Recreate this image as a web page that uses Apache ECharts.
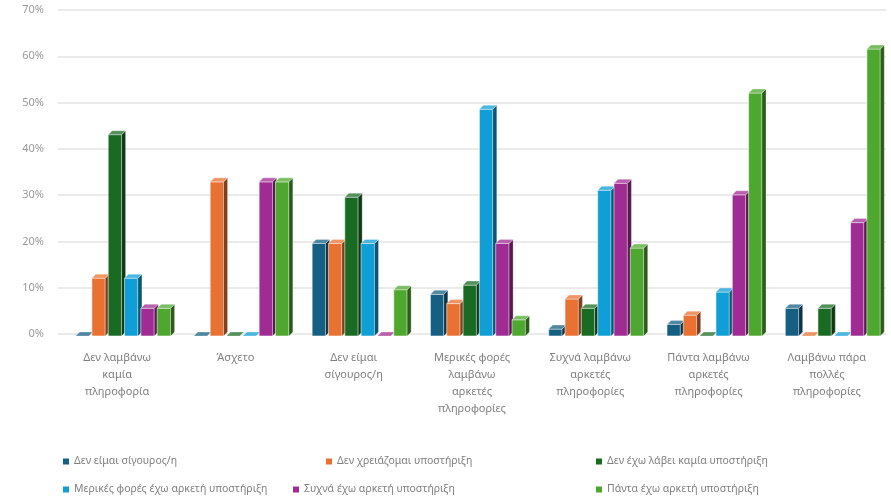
<!DOCTYPE html>
<html>
<head>
<meta charset="utf-8">
<script src="https://cdn.jsdelivr.net/npm/echarts@6/dist/echarts.min.js"></script>
<style>html,body{margin:0;padding:0;background:#fff}#c{width:891px;height:497px}</style>
</head>
<body>
<div id="c"></div>
<script>
const categories = [
  "Δεν λαμβάνω\nκαμία\nπληροφορία",
  "Άσχετο",
  "Δεν είμαι\nσίγουρος/η",
  "Μερικές φορές\nλαμβάνω\nαρκετές\nπληροφορίες",
  "Συχνά λαμβάνω\nαρκετές\nπληροφορίες",
  "Πάντα λαμβάνω\nαρκετές\nπληροφορίες",
  "Λαμβάνω πάρα\nπολλές\nπληροφορίες"
];
const seriesNames = [
  "Δεν είμαι σίγουρος/η",
  "Δεν χρειάζομαι υποστήριξη",
  "Δεν έχω λάβει καμία υποστήριξη",
  "Μερικές φορές έχω αρκετή υποστήριξη",
  "Συχνά έχω αρκετή υποστήριξη",
  "Πάντα έχω αρκετή υποστήριξη"
];
const notSure      = [0, 0, 20, 9, 1.5, 2.5, 6];
const noNeed       = [12.5, 33.3, 20, 7, 8, 4.5, 0];
const noneReceived = [43.5, 0, 30, 11, 6, 0, 6];
const sometimes    = [12.5, 0, 20, 49, 31.5, 9.5, 0];
const often        = [6, 33.3, 0, 20, 33, 30.5, 24.5];
const always       = [6, 33.3, 10, 3.5, 19, 52.5, 62];
const yTicks = [0, 10, 20, 30, 40, 50, 60, 70];

const seriesValues = [notSure, noNeed, noneReceived, sometimes, often, always];
const colors = ["#156082", "#E97132", "#196B24", "#0F9ED5", "#A02B93", "#4EA72E"];

function shade(hex, f) {
  const n = parseInt(hex.slice(1), 16);
  let r = (n >> 16) & 255, g = (n >> 8) & 255, b = n & 255;
  if (f < 0) { r = Math.round(r * (1 + f)); g = Math.round(g * (1 + f)); b = Math.round(b * (1 + f)); }
  else { r = Math.round(r + (255 - r) * f); g = Math.round(g + (255 - g) * f); b = Math.round(b + (255 - b) * f); }
  return "rgb(" + r + "," + g + "," + b + ")";
}

function makeRender(k, color) {
  return function (params, api) {
    const idx = api.value(0), val = api.value(1);
    const p = api.coord([idx, val]);
    const p0 = api.coord([idx, 0]);
    const bw = api.size([1, 0])[0];
    const pitch = bw * 0.138;
    const w = pitch * 0.82;
    const d = 4;
    const cx = p[0] + bw * 0.05 + (k - 2.5) * pitch;
    const x0 = cx - w / 2;
    const yt = p[1] + 2, yb = p0[1] + 2;
    return {
      type: "group",
      children: [
        { type: "rect", shape: { x: x0, y: yt, width: w, height: Math.max(0, yb - yt) },
          style: { fill: color, stroke: "rgba(255,255,255,0.7)", lineWidth: 0.8 } },
        { type: "polygon", shape: { points: [[x0 + w, yt], [x0 + w + d, yt - d], [x0 + w + d, yb - d], [x0 + w, yb]] },
          style: { fill: shade(color, -0.45), stroke: "rgba(255,255,255,0.5)", lineWidth: 0.5 } },
        { type: "polygon", shape: { points: [[x0, yt], [x0 + w, yt], [x0 + w + d, yt - d], [x0 + d, yt - d]] },
          style: { fill: shade(color, 0.25), stroke: "rgba(255,255,255,0.6)", lineWidth: 0.5 } }
      ]
    };
  };
}

const legendPos = [
  { left: 63, top: 456 }, { left: 326, top: 456 }, { left: 596, top: 456 },
  { left: 63, top: 484 }, { left: 293, top: 484 }, { left: 596, top: 484 }
];

const chart = echarts.init(document.getElementById("c"));
chart.setOption({
  animation: false,
  textStyle: { fontFamily: "Noto Sans" },
  grid: { left: 58, right: 5, top: 10, bottom: 163 },
  legend: seriesNames.map((n, i) => Object.assign({
    data: [n], icon: "rect", itemWidth: 6, itemHeight: 6, itemGap: 4,
    textStyle: { color: "#7f7f7f", fontSize: 10.5, fontFamily: "Noto Sans" },
    padding: 0
  }, legendPos[i])),
  xAxis: {
    type: "category", data: categories,
    axisLine: { show: false }, axisTick: { show: false },
    axisLabel: { color: "#7f7f7f", fontSize: 11, lineHeight: 17, margin: 15, interval: 0 }
  },
  yAxis: {
    type: "value", min: 0, max: 70, interval: 10,
    axisLine: { show: false }, axisTick: { show: false },
    splitLine: { lineStyle: { color: "#e3e3e3", width: 1.5 } },
    axisLabel: { color: "#9a9a9a", fontSize: 11, margin: 14, formatter: v => yTicks.includes(v) ? v + "%" : "" }
  },
  series: seriesValues.map((vals, k) => ({
    type: "custom", name: seriesNames[k],
    itemStyle: { color: colors[k] },
    renderItem: makeRender(k, colors[k]),
    encode: { x: 0, y: 1 },
    data: vals.map((v, i) => [i, v])
  }))
});
</script>
</body>
</html>
